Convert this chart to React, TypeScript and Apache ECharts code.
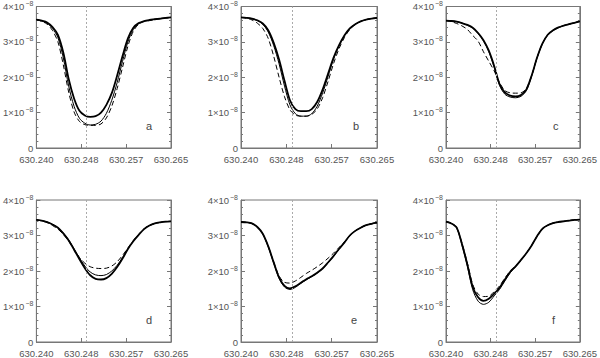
import React, { useEffect, useRef } from "react";
import * as echarts from "echarts";

// Wavelength grid (nm)
const WAVELENGTH = [
  630.240, 630.241, 630.242, 630.243, 630.244, 630.245, 630.246, 630.247, 630.248,
  630.249, 630.250, 630.251, 630.252, 630.253, 630.254, 630.255, 630.256, 630.257,
  630.258, 630.259, 630.260, 630.261, 630.262, 630.263, 630.264, 630.265,
];
const LAMBDA_MIN = 630.240;
const LAMBDA_MAX = 630.265;
const LINE_CENTER = 630.2493;

const X_TICKS = ["630.240", "630.248", "630.257", "630.265"];
const Y_TICK_MANTISSA = ["0", "1", "2", "3", "4"];
const Y_TICK_EXPONENT = "−8";
const PANEL_LETTERS = ["a", "b", "c", "d", "e", "f"];

// Intensity values in units of 1e-8
const A_THICK = [3.63, 3.60, 3.55, 3.42, 3.20, 2.70, 1.95, 1.40, 1.05, 0.92, 0.88, 0.90, 1.00, 1.22, 1.55, 2.05, 2.60, 3.10, 3.40, 3.53, 3.59, 3.62, 3.64, 3.66, 3.68, 3.69];
const A_THIN = [3.63, 3.59, 3.53, 3.38, 3.12, 2.55, 1.75, 1.18, 0.84, 0.70, 0.65, 0.67, 0.76, 0.98, 1.35, 1.85, 2.45, 3.00, 3.35, 3.52, 3.58, 3.61, 3.64, 3.66, 3.68, 3.69];
const A_DASH = [3.63, 3.58, 3.50, 3.32, 3.00, 2.35, 1.58, 1.02, 0.75, 0.66, 0.64, 0.64, 0.68, 0.85, 1.18, 1.68, 2.28, 2.88, 3.30, 3.50, 3.57, 3.60, 3.63, 3.65, 3.67, 3.68];

const B_THICK = [3.69, 3.68, 3.66, 3.61, 3.52, 3.33, 2.98, 2.50, 1.90, 1.35, 1.10, 1.04, 1.04, 1.10, 1.30, 1.65, 2.10, 2.55, 2.90, 3.18, 3.38, 3.50, 3.58, 3.63, 3.66, 3.68];
const B_THIN = [3.69, 3.68, 3.65, 3.60, 3.50, 3.28, 2.90, 2.38, 1.75, 1.22, 0.97, 0.90, 0.90, 0.97, 1.18, 1.55, 2.02, 2.50, 2.88, 3.17, 3.38, 3.50, 3.58, 3.63, 3.66, 3.68];
const B_DASH = [3.69, 3.67, 3.62, 3.53, 3.38, 3.10, 2.60, 2.00, 1.45, 1.08, 0.93, 0.90, 0.90, 0.95, 1.10, 1.42, 1.88, 2.38, 2.80, 3.12, 3.35, 3.49, 3.58, 3.63, 3.66, 3.68];

const C_THICK = [3.60, 3.59, 3.57, 3.53, 3.48, 3.40, 3.25, 3.05, 2.75, 2.32, 1.81, 1.57, 1.48, 1.46, 1.50, 1.65, 2.05, 2.55, 2.95, 3.20, 3.33, 3.41, 3.46, 3.50, 3.54, 3.58];
const C_THIN = [3.60, 3.59, 3.57, 3.53, 3.47, 3.39, 3.23, 3.02, 2.72, 2.28, 1.77, 1.52, 1.44, 1.42, 1.46, 1.62, 2.03, 2.54, 2.94, 3.19, 3.32, 3.40, 3.46, 3.50, 3.54, 3.58];
const C_DASH = [3.60, 3.57, 3.52, 3.45, 3.35, 3.18, 3.02, 2.72, 2.45, 2.18, 1.85, 1.62, 1.56, 1.55, 1.56, 1.68, 2.05, 2.55, 2.95, 3.20, 3.33, 3.41, 3.46, 3.50, 3.54, 3.58];

const D_THICK = [3.44, 3.42, 3.38, 3.31, 3.22, 3.06, 2.86, 2.60, 2.33, 2.08, 1.88, 1.78, 1.76, 1.80, 1.92, 2.11, 2.35, 2.62, 2.84, 3.02, 3.18, 3.28, 3.34, 3.37, 3.39, 3.40];
const D_THIN = [3.44, 3.42, 3.38, 3.31, 3.22, 3.07, 2.88, 2.63, 2.37, 2.14, 1.97, 1.89, 1.87, 1.90, 2.00, 2.16, 2.38, 2.63, 2.85, 3.03, 3.19, 3.28, 3.34, 3.37, 3.39, 3.40];
const D_DASH = [3.44, 3.41, 3.36, 3.28, 3.18, 3.03, 2.84, 2.60, 2.38, 2.22, 2.12, 2.08, 2.07, 2.08, 2.14, 2.26, 2.44, 2.65, 2.86, 3.03, 3.19, 3.28, 3.34, 3.37, 3.39, 3.40];

const E_THICK = [3.38, 3.37, 3.34, 3.24, 3.05, 2.70, 2.25, 1.82, 1.58, 1.51, 1.57, 1.67, 1.77, 1.85, 1.95, 2.07, 2.24, 2.42, 2.62, 2.80, 3.00, 3.13, 3.22, 3.29, 3.33, 3.36];
const E_THIN = [3.38, 3.37, 3.34, 3.24, 3.04, 2.68, 2.22, 1.79, 1.55, 1.48, 1.54, 1.65, 1.75, 1.84, 1.94, 2.06, 2.23, 2.41, 2.61, 2.80, 3.00, 3.13, 3.22, 3.29, 3.33, 3.36];
const E_DASH = [3.38, 3.37, 3.34, 3.24, 3.05, 2.70, 2.26, 1.86, 1.68, 1.66, 1.72, 1.82, 1.93, 2.02, 2.12, 2.23, 2.36, 2.50, 2.66, 2.82, 3.00, 3.13, 3.22, 3.29, 3.33, 3.36];

const F_THICK = [3.39, 3.34, 3.22, 2.75, 2.18, 1.55, 1.26, 1.16, 1.22, 1.36, 1.53, 1.76, 1.98, 2.13, 2.31, 2.50, 2.72, 2.98, 3.19, 3.29, 3.35, 3.38, 3.40, 3.42, 3.44, 3.45];
const F_THIN = [3.39, 3.34, 3.21, 2.72, 2.12, 1.47, 1.15, 1.06, 1.12, 1.30, 1.48, 1.72, 1.95, 2.12, 2.30, 2.50, 2.72, 2.98, 3.19, 3.29, 3.35, 3.38, 3.40, 3.42, 3.44, 3.45];
const F_DASH = [3.39, 3.35, 3.23, 2.78, 2.22, 1.62, 1.35, 1.28, 1.29, 1.42, 1.58, 1.80, 2.00, 2.14, 2.31, 2.50, 2.72, 2.98, 3.19, 3.29, 3.35, 3.38, 3.40, 3.42, 3.44, 3.45];

const PANELS = [
  [A_THICK, A_THIN, A_DASH],
  [B_THICK, B_THIN, B_DASH],
  [C_THICK, C_THIN, C_DASH],
  [D_THICK, D_THIN, D_DASH],
  [E_THICK, E_THIN, E_DASH],
  [F_THICK, F_THIN, F_DASH],
];

// x mapped to tick-index units (0..3), so interval 1 starts at min 0
const toX = (w: number) => ((w - LAMBDA_MIN) / (LAMBDA_MAX - LAMBDA_MIN)) * 3;

const COL_LEFT = [35, 241, 446];
const ROW_TOP = [5, 200];
const GRID_W = 136;
const GRID_H = 143;
const LETTER_POS = [
  [150, 127], [357, 127], [557, 127],
  [150, 321], [355, 321], [556, 321],
];

const FONT = "'Liberation Sans', 'DejaVu Sans', sans-serif";
const TEXT_COLOR = "#555";
const FRAME_COLOR = "#777";

export default function App() {
  const ref = useRef<HTMLDivElement>(null);
  useEffect(() => {
    if (!ref.current) return;
    const chart = echarts.init(ref.current, undefined, { renderer: "svg" });
    const grid: any[] = [];
    const xAxis: any[] = [];
    const yAxis: any[] = [];
    const series: any[] = [];
    const graphic: any[] = [];
    PANELS.forEach((curves, p) => {
      const col = p % 3;
      const row = Math.floor(p / 3);
      grid.push({
        left: COL_LEFT[col],
        top: ROW_TOP[row],
        width: GRID_W,
        height: GRID_H,
        show: true,
        borderColor: FRAME_COLOR,
        borderWidth: 1,
        backgroundColor: "transparent",
      });
      xAxis.push({
        type: "value",
        gridIndex: p,
        min: 0,
        max: 3,
        interval: 1,
        axisLine: { show: true, onZero: false, lineStyle: { color: FRAME_COLOR, width: 1 } },
        axisTick: { show: true, inside: true, length: 4, lineStyle: { color: FRAME_COLOR } },
        splitLine: { show: false },
        axisLabel: {
          show: true,
          margin: 6,
          color: TEXT_COLOR,
          fontSize: 9.5,
          fontFamily: FONT,
          formatter: (v: number) => X_TICKS[Math.round(v)] ?? "",
        },
      });
      const yBase = {
        type: "value",
        gridIndex: p,
        min: 0,
        max: 4,
        interval: 1,
        axisLine: { show: true, onZero: false, lineStyle: { color: FRAME_COLOR, width: 1 } },
        axisTick: { show: true, inside: true, length: 4, lineStyle: { color: FRAME_COLOR } },
        minorTick: { show: true, splitNumber: 5, length: 2, lineStyle: { color: FRAME_COLOR } },
        splitLine: { show: false },
        minorSplitLine: { show: false },
      };
      yAxis.push({
        ...yBase,
        position: "left",
        axisLabel: {
          show: true,
          margin: 3,
          color: TEXT_COLOR,
          fontSize: 9.5,
          fontFamily: FONT,
          formatter: (v: number) => {
            const m = Y_TICK_MANTISSA[Math.round(v)] ?? "";
            return m === "0" ? "{b|0}" : `{b|${m}×10}{s|${Y_TICK_EXPONENT}}`;
          },
          rich: {
            b: { fontSize: 9.5, fontFamily: FONT, color: TEXT_COLOR, lineHeight: 13 },
            s: { fontSize: 7, fontFamily: FONT, color: TEXT_COLOR, lineHeight: 13, verticalAlign: "top", padding: [0, 0, 0, 1] },
          },
        },
      });
      yAxis.push({
        ...yBase,
        position: "right",
        axisLabel: { show: false },
      });
      const styles = [
        { width: 1.8, type: "solid", z: 4 },
        { width: 1, type: "solid", z: 3 },
        { width: 1, type: [5, 3], z: 2 },
      ];
      curves.forEach((vals, k) => {
        const s: any = {
          type: "line",
          xAxisIndex: p,
          yAxisIndex: p * 2,
          data: WAVELENGTH.map((w, i) => [toX(w), vals[i]]),
          showSymbol: false,
          symbol: "none",
          smooth: 0.3,
          z: styles[k].z,
          lineStyle: { color: "#000", width: styles[k].width, type: styles[k].type },
        };
        if (k === 0) {
          s.markLine = {
            silent: true,
            symbol: "none",
            label: { show: false },
            lineStyle: { color: "#aaa", width: 1, type: [2, 2] },
            data: [{ xAxis: toX(LINE_CENTER) }],
          };
        }
        series.push(s);
      });
      graphic.push({
        type: "text",
        left: LETTER_POS[p][0] - 4,
        top: LETTER_POS[p][1] - 7,
        style: {
          text: PANEL_LETTERS[p],
          fill: "#444",
          fontSize: 11,
          fontFamily: FONT,
        },
      });
    });
    chart.setOption({
      animation: false,
      backgroundColor: "#fff",
      grid,
      xAxis,
      yAxis,
      series,
      graphic,
    });
    return () => chart.dispose();
  }, []);
  return (
    <div
      ref={ref}
      style={{ position: "fixed", left: 0, top: 0, width: 600, height: 358 }}
    />
  );
}
